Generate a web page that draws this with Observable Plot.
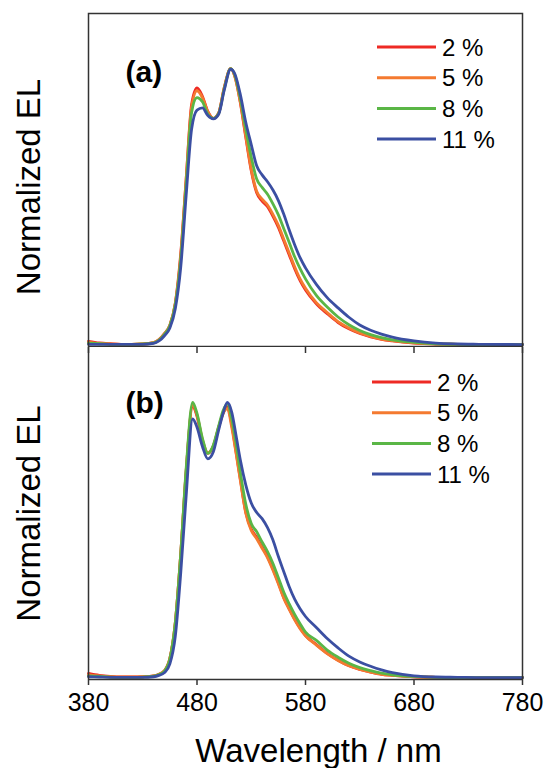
<!DOCTYPE html>
<html><head><meta charset="utf-8">
<script src="https://cdn.jsdelivr.net/npm/d3@7"></script>
<script src="https://cdn.jsdelivr.net/npm/@observablehq/plot@0.6"></script>
<style>
body{margin:0;background:#fff;}
#chart{width:545px;}
#chart svg{display:block;}
</style></head><body><div id="chart"></div>
<script>
const seriesNames = ["2 %", "5 %", "8 %", "11 %"];
const seriesColors = ["#ee2a24", "#f47a30", "#5ab646", "#3b4fa2"];
const xTicks = [380, 480, 580, 680, 780];
const xDomain = [380, 780];
const yDomain = [-0.007, 1.2];
const panelLabels = ["(a)", "(b)"];
const yTitle = "Normalized EL";
const xTitle = "Wavelength / nm";

const wavelengthsA = [380,390,400,410,420,430,440,445,450,455,460,465,470,475,480,485,490,495,500,505,511,515,520,525,530,535,540,545,550,555,560,565,570,575,580,590,600,610,620,630,640,650,660,680,700,720,740,780];
const elA_2 = [0.012,0.006,0.003,0.001,0.001,0.002,0.007,0.018,0.04,0.07,0.15,0.33,0.6,0.87,0.93,0.9,0.845,0.82,0.84,0.93,1.0,0.97,0.875,0.75,0.63,0.55,0.52,0.5,0.465,0.425,0.375,0.325,0.275,0.232,0.198,0.148,0.112,0.08,0.057,0.04,0.028,0.019,0.013,0.005,0.002,0.001,0,0];
const elA_5 = [0.008,0.004,0.002,0.001,0.001,0.002,0.007,0.018,0.04,0.07,0.15,0.32,0.6,0.86,0.92,0.895,0.843,0.82,0.84,0.93,1.0,0.97,0.878,0.755,0.635,0.556,0.527,0.506,0.472,0.432,0.382,0.332,0.282,0.238,0.204,0.152,0.116,0.083,0.06,0.042,0.03,0.02,0.014,0.006,0.002,0.001,0,0];
const elA_8 = [0.005,0.003,0.001,0.001,0.001,0.002,0.006,0.016,0.037,0.068,0.145,0.31,0.58,0.84,0.895,0.88,0.835,0.82,0.838,0.925,1.0,0.975,0.89,0.78,0.68,0.6,0.57,0.545,0.51,0.47,0.42,0.37,0.318,0.275,0.238,0.178,0.136,0.1,0.072,0.051,0.036,0.025,0.017,0.008,0.003,0.001,0,0];
const elA_11 = [0.001,0.001,0.001,0.001,0.001,0.001,0.004,0.013,0.032,0.06,0.13,0.28,0.54,0.78,0.85,0.858,0.83,0.818,0.835,0.92,0.998,0.98,0.905,0.805,0.725,0.648,0.615,0.59,0.56,0.522,0.472,0.415,0.362,0.315,0.278,0.218,0.17,0.133,0.099,0.071,0.052,0.038,0.027,0.013,0.005,0.002,0.001,0];

const wavelengthsB = [380,390,400,410,420,430,440,445,450,455,460,465,470,476,480,485,490,495,500,504,508,512,516,520,525,530,535,540,545,550,555,560,565,570,575,580,590,600,610,620,630,640,650,660,680,700,720,740,780];
const elB_2 = [0.015,0.008,0.004,0.002,0.002,0.003,0.006,0.012,0.025,0.07,0.2,0.45,0.75,0.985,0.95,0.86,0.815,0.84,0.91,0.96,0.985,0.92,0.82,0.72,0.6,0.54,0.51,0.475,0.44,0.395,0.345,0.29,0.25,0.213,0.18,0.153,0.12,0.088,0.063,0.043,0.03,0.02,0.012,0.008,0.003,0.001,0,0,0];
const elB_5 = [0.01,0.006,0.003,0.002,0.002,0.003,0.006,0.012,0.025,0.07,0.2,0.45,0.75,0.99,0.955,0.865,0.818,0.842,0.91,0.96,0.978,0.91,0.815,0.715,0.597,0.535,0.505,0.47,0.435,0.39,0.34,0.288,0.248,0.21,0.178,0.152,0.118,0.087,0.062,0.043,0.03,0.02,0.012,0.008,0.003,0.001,0,0,0];
const elB_8 = [0.006,0.004,0.002,0.001,0.001,0.002,0.005,0.011,0.024,0.068,0.2,0.45,0.76,1.0,0.96,0.87,0.815,0.845,0.915,0.97,0.995,0.94,0.85,0.745,0.63,0.56,0.53,0.493,0.458,0.415,0.363,0.31,0.268,0.23,0.196,0.165,0.135,0.1,0.074,0.052,0.036,0.025,0.016,0.01,0.004,0.001,0,0,0];
const elB_11 = [0.003,0.002,0.001,0.001,0.001,0.001,0.003,0.008,0.018,0.05,0.15,0.38,0.66,0.94,0.91,0.84,0.795,0.82,0.9,0.96,1.0,0.965,0.88,0.79,0.7,0.635,0.6,0.578,0.545,0.5,0.44,0.385,0.33,0.285,0.25,0.222,0.182,0.142,0.108,0.078,0.057,0.041,0.028,0.018,0.006,0.002,0.001,0,0];

function rows(wl, arrays) {
  return arrays.flatMap((arr, i) => arr.map((v, j) => ({series: seriesNames[i], wavelength: wl[j], value: v})));
}
const dataA = rows(wavelengthsA, [elA_2, elA_5, elA_8, elA_11]);
const dataB = rows(wavelengthsB, [elB_2, elB_5, elB_8, elB_11]);

const fontFamily = '"Liberation Sans", Arial, Helvetica, sans-serif';
const frameColor = "#333";

function legendMark(left, topOffset, step) {
  return (index, scales, values, dimensions) => {
    const g = d3.create("svg:g");
    seriesNames.forEach((s, i) => {
      const y = dimensions.marginTop + topOffset + i * step;
      g.append("line").attr("x1", left).attr("x2", left + 59).attr("y1", y).attr("y2", y)
        .attr("stroke", scales.color(s)).attr("stroke-width", 3);
      g.append("text").attr("x", left + 65).attr("y", y).attr("dy", "0.36em")
        .attr("text-anchor", "start")
        .style("font-size", "24px").style("font-family", fontFamily).attr("fill", "#000").text(s);
    });
    return g.node();
  };
}

function commonMarks(data, label, opts) {
  return [
    Plot.line(data, {x: "wavelength", y: "value", stroke: "series", z: "series", strokeWidth: 2.8, curve: "monotone-x"}),
    Plot.text([label], {text: d => d, frameAnchor: "top-left", dx: 37, dy: opts.labelDy, textAnchor: "start", lineAnchor: "middle", fontSize: 30, fontWeight: "bold", fill: "#000"}),
    Plot.text([yTitle], {text: d => d, frameAnchor: "left", rotate: -90, dx: -59, dy: opts.titleDy, textAnchor: "middle", lineAnchor: "middle", fontSize: 33, fill: "#000"}),
    legendMark(opts.left, opts.top, opts.step)
  ];
}

const colorScale = {domain: seriesNames, range: seriesColors};

const plotA = Plot.plot({
  width: 545, height: 347,
  marginTop: 13, marginBottom: 1, marginLeft: 88, marginRight: 23,
  style: {fontFamily, background: "#fff"},
  x: {domain: xDomain, axis: null},
  y: {domain: yDomain, axis: null},
  color: colorScale,
  marks: [
    ...commonMarks(dataA, panelLabels[0], {left: 377, top: 34, step: 30.7, labelDy: 59, titleDy: 7}),
    Plot.frame({stroke: frameColor, strokeWidth: 1.5})
  ]
});

const bottomPlotHeight = 332;
const plotB = Plot.plot({
  width: 545, height: 421,
  marginTop: 0, marginBottom: 89, marginLeft: 88, marginRight: 23,
  style: {fontFamily, background: "#fff"},
  x: {domain: xDomain},
  y: {domain: yDomain, axis: null},
  color: colorScale,
  marks: [
    ...commonMarks(dataB, panelLabels[1], {left: 372, top: 35, step: 30.7, labelDy: 56, titleDy: 0}),
    Plot.ruleX(xTicks, {stroke: frameColor, strokeWidth: 1.5, insetBottom: bottomPlotHeight - 6}),
    Plot.ruleX(xDomain, {stroke: frameColor, strokeWidth: 1.5}),
    Plot.ruleY([yDomain[0]], {stroke: frameColor, strokeWidth: 1.5}),
    Plot.axisX({ticks: xTicks, anchor: "bottom", tickSize: 6, tickFormat: () => "", label: null, stroke: frameColor, strokeWidth: 1.5}),
    Plot.text(xTicks, {x: d => d, text: d => String(d), frameAnchor: "bottom", dy: 23, lineAnchor: "middle", textAnchor: "middle", fontSize: 25, fill: "#000"}),
    Plot.text([xTitle], {text: d => d, frameAnchor: "bottom", dx: 13, dy: 72, textAnchor: "middle", lineAnchor: "middle", fontSize: 33, fill: "#000"})
  ]
});

document.getElementById("chart").append(plotA, plotB);
</script></body></html>
